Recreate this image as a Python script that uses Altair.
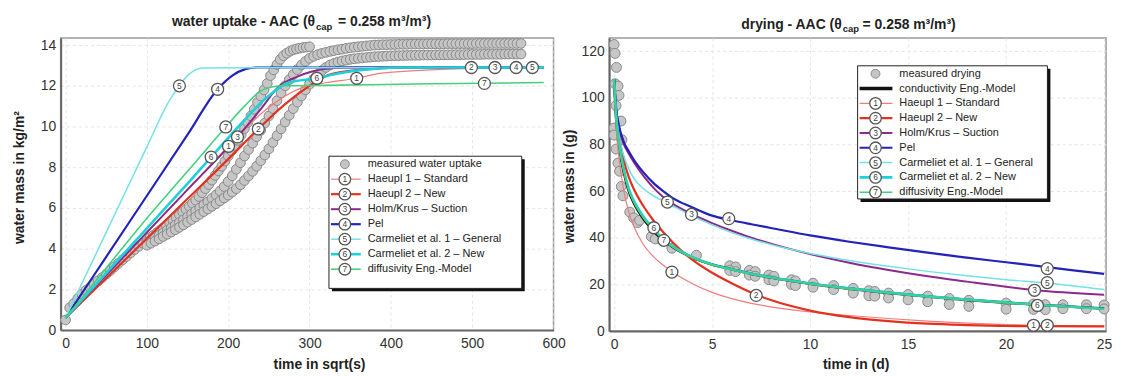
import altair as alt
import pandas as pd

FONT = "Liberation Sans"

# ---------------- series names & styles ----------------
SERIES = ["Haeupl 1 – Standard", "Haeupl 2 – New", "Holm/Krus – Suction", "Pel",
          "Carmeliet et al. 1 – General", "Carmeliet et al. 2 – New", "diffusivity Eng.-Model"]
COLORS = ["#f07c7c", "#e2321f", "#8c2a8c", "#2323b5", "#74e2e4", "#1ed0da", "#45d07e"]
WIDTHS = [1.2, 2.2, 2.0, 2.2, 1.5, 2.6, 1.6]

# ---------------- left panel: water uptake (measured, time in sqrt(s)) ----------------
up_early_t = [0, 5, 10, 15, 20, 25, 30, 35, 40, 45, 50, 55, 60, 65, 70, 75, 80, 85, 90, 95]
up_early_m = [0.5, 1.1, 1.3, 1.55, 1.77, 1.95, 2.1, 2.26, 2.42, 2.58,
              2.75, 2.92, 3.1, 3.28, 3.45, 3.62, 3.79, 3.96, 4.12, 4.27]

up_a_t = [100, 104, 108, 112, 116, 120, 124, 128, 132, 136,
          140, 144, 148, 152, 156, 160, 164, 168, 172, 176,
          180, 184, 188, 192, 196, 200, 204, 208, 212, 216,
          220, 224, 228, 232, 236, 240, 244, 248, 252, 256,
          260, 264, 268, 272, 276, 280, 284, 288, 292, 296,
          300]
up_a_m = [4.45, 4.55, 4.66, 4.78, 4.9, 5.02, 5.14, 5.27, 5.4, 5.53,
          5.66, 5.8, 5.94, 6.08, 6.23, 6.38, 6.56, 6.75, 6.95, 7.15,
          7.37, 7.6, 7.82, 8.05, 8.3, 8.55, 8.8, 9.05, 9.32, 9.6,
          9.9, 10.2, 10.52, 10.85, 11.18, 11.5, 11.8, 12.12, 12.5, 12.78,
          13.05, 13.3, 13.48, 13.6, 13.7, 13.77, 13.81, 13.85, 13.88, 13.9,
          13.92]

up_bc_t = [100, 105, 110, 115, 120, 125, 130, 135, 140, 145,
           150, 155, 160, 165, 170, 175, 180, 185, 190, 195,
           200, 205, 210, 215, 220, 225, 230, 235, 240, 245,
           250, 255, 260, 265, 270, 275, 280, 285, 290, 295,
           300, 305, 310, 315, 320, 325, 330, 335, 340, 345,
           350, 355, 360, 365, 370, 375, 380, 385, 390, 395,
           400, 405, 410, 415, 420, 425, 430, 435, 440, 445,
           450, 455, 460, 465, 470, 475, 480, 485, 490, 495,
           500, 505, 510, 515, 520, 525, 530, 535, 540, 545,
           550, 555, 560]
up_b_m = [4.32, 4.42, 4.52, 4.65, 4.78, 4.9, 5.03, 5.16, 5.29, 5.42,
          5.56, 5.7, 5.85, 6.0, 6.15, 6.3, 6.47, 6.64, 6.83, 7.05,
          7.3, 7.58, 7.9, 8.22, 8.55, 8.87, 9.18, 9.5, 9.82, 10.17,
          10.52, 10.88, 11.27, 11.65, 12.0, 12.3, 12.55, 12.8, 13.02, 13.2,
          13.35, 13.45, 13.53, 13.59, 13.64, 13.69, 13.73, 13.77, 13.8, 13.84,
          13.87, 13.9, 13.92, 13.94, 13.96, 13.98, 14.0, 14.01, 14.02, 14.02,
          14.03, 14.03, 14.04, 14.04, 14.04, 14.05, 14.05, 14.05, 14.05, 14.06,
          14.06, 14.06, 14.06, 14.06, 14.07, 14.07, 14.07, 14.07, 14.07, 14.07,
          14.07, 14.08, 14.08, 14.08, 14.08, 14.08, 14.08, 14.08, 14.08, 14.08,
          14.08, 14.08, 14.08]
up_c_m = [4.17, 4.27, 4.37, 4.48, 4.6, 4.71, 4.82, 4.93, 5.05, 5.17,
          5.3, 5.43, 5.56, 5.69, 5.82, 5.95, 6.08, 6.21, 6.35, 6.49,
          6.63, 6.78, 6.95, 7.14, 7.35, 7.57, 7.8, 8.05, 8.32, 8.6,
          8.9, 9.22, 9.55, 9.88, 10.22, 10.55, 10.88, 11.2, 11.5, 11.8,
          12.08, 12.33, 12.55, 12.74, 12.9, 13.02, 13.1, 13.17, 13.22, 13.26,
          13.3, 13.33, 13.35, 13.37, 13.39, 13.41, 13.43, 13.44, 13.45, 13.46,
          13.47, 13.48, 13.48, 13.49, 13.49, 13.5, 13.5, 13.5, 13.51, 13.51,
          13.51, 13.52, 13.52, 13.52, 13.52, 13.53, 13.53, 13.53, 13.53, 13.54,
          13.54, 13.54, 13.54, 13.55, 13.55, 13.55, 13.55, 13.55, 13.56, 13.56,
          13.56, 13.56, 13.56]

# ---------------- left panel: model curves ----------------
up_x = [
    [0, 50, 100, 150, 200.4, 250, 290, 320, 358, 384, 420, 470, 520, 588],
    [0, 50, 100, 150, 200, 237, 270, 299, 323, 343, 380, 430, 588],
    [0, 50, 100, 150, 211.4, 240, 262, 285, 303, 323, 350, 588],
    [0, 50, 100, 150, 187, 205, 221, 235, 588],
    [0, 50, 100, 128, 140, 150, 158, 168, 588],
    [0, 50, 100, 150, 179, 215, 242, 274, 309, 335, 370, 410, 588],
    [0, 50, 100, 150, 197, 220, 240, 255, 270, 320, 450, 588],
]
up_y = [
    [0.6, 2.7, 4.8, 6.9, 9.03, 10.95, 11.9, 12.15, 12.37, 12.6, 12.72, 12.82, 12.87, 12.9],
    [0.6, 2.55, 4.5, 6.45, 8.4, 9.88, 11.1, 11.97, 12.53, 12.7, 12.84, 12.9, 12.9],
    [0.6, 2.7, 4.8, 6.9, 9.49, 10.85, 11.96, 12.45, 12.7, 12.85, 12.9, 12.9],
    [0.6, 3.6, 6.6, 9.6, 11.83, 12.5, 12.82, 12.9, 12.9],
    [0.6, 4.8, 9.0, 11.3, 12.0, 12.5, 12.75, 12.88, 12.9],
    [0.6, 2.8, 5.0, 7.2, 8.5, 10.1, 11.23, 12.15, 12.37, 12.6, 12.8, 12.9, 12.9],
    [0.6, 3.05, 5.5, 7.8, 9.98, 11.0, 11.75, 11.95, 12.0, 12.02, 12.1, 12.16],
]
up_mark_num = [1, 1, 2, 2, 3, 3, 4, 4, 5, 5, 6, 6, 7, 7]
up_mark_x = [200.4, 358, 237, 499, 211.4, 528, 187, 554, 140, 574, 179, 309, 197, 515]
up_mark_y = [9.03, 12.37, 9.88, 12.9, 9.49, 12.9, 11.83, 12.9, 12.0, 12.9, 8.5, 12.37, 9.98, 12.12]

# ---------------- right panel: drying ----------------
dry_meas_t = [0, 0.05, 0.12, 0.05, 0.2, 0.25, 0.1, 0, 0, 0.1, 0.2, 0.28, 0.37, 0.45, 0.35, 0.4,
              0.8, 1.0, 1.2, 1.3, 1.9, 2.1, 2.95, 4.2,
              5.9, 6.2, 6.9, 7.2, 7.9, 8.15, 9.05, 9.25, 10.15, 11.2, 12.2, 13.0, 13.3, 14.0, 15.0, 16.0,
              17.1, 18.1, 20.0, 21.4, 22.0, 22.9, 24.1, 25.0,
              5.9, 6.2, 6.9, 7.2, 7.9, 8.15, 9.05, 9.25, 10.15, 11.2, 12.2, 13.0, 13.3, 14.0, 15.0, 16.0,
              17.1, 18.1, 20.0, 21.4, 22.0, 22.9, 24.1, 25.0]
dry_meas_m = [122.8, 119, 113, 106, 105, 101, 96.6, 87, 84, 78, 72, 68.5, 62, 58, 90, 82,
              51, 48.5, 46.5, 47.5, 40.5, 39.5, 35.5, 32.5,
              28, 27.5, 26, 25.5, 24, 23.5, 22, 21.5, 20.5, 19.5, 18.3, 17.3, 17, 16.3, 15.7, 15,
              14, 13.2, 12, 11.6, 11.3, 11.3, 11.3, 11.2,
              26, 25.5, 24, 23.5, 22, 21.5, 20, 19.5, 18.8, 17.8, 16.3, 15.2, 15, 14.2, 13.4, 12.6,
              11.4, 10.6, 9.4, 9.3, 9.2, 9.6, 9.6, 9.5]

dry_t = [0, 0.1, 0.25, 0.5, 0.75, 1, 1.5, 2, 2.5, 3, 4, 5, 6, 7, 8, 10, 12, 14, 16, 18, 20, 22, 25]
dry_cond = [108, 92, 80, 68, 60, 55, 48, 43, 39, 36, 31.5, 28.5, 26.5, 24.5, 23, 20.3, 18.2, 16.4, 14.8, 13.4, 12.2, 11.1, 9.7]
dry_y = [
    [108, 88, 74, 60, 51, 45, 37, 32, 28.3, 25.2, 20.3, 16.6, 13.9, 11.9, 10.4, 8.2, 6.7, 5.4, 4.3, 3.4, 2.8, 2.4, 2.2],
    [108, 94, 84, 73, 66, 61, 53.5, 47.5, 42.5, 38, 30.5, 25, 20.5, 16.5, 13.3, 8.8, 6.0, 4.3, 3.2, 2.6, 2.2, 2.1, 2.0],
    [108, 95, 87, 80, 76, 72.5, 66.5, 61.5, 57.5, 54.5, 50, 46.3, 43, 40, 37.5, 33, 29.3, 26.2, 23.5, 21.2, 19.0, 17.2, 15.6],
    [108, 96, 88, 81, 77, 73.5, 68, 63.5, 60, 57, 53, 49.5, 47.5, 45.8, 44.2, 41, 38.3, 35.9, 33.6, 31.5, 29.5, 27.5, 24.5],
    [108, 94, 84, 75, 69.5, 65.5, 61, 58, 55.8, 53.6, 49.3, 45.5, 42.2, 39.5, 37.1, 33.3, 30.3, 27.8, 25.6, 23.7, 22.0, 20.6, 17.8],
    [108, 93, 81, 69, 61, 56, 49, 44, 39.5, 36.3, 31.7, 28.6, 26.5, 24.6, 23.1, 20.4, 18.3, 16.5, 14.9, 13.5, 12.3, 11.1, 9.6],
    [108, 92.5, 80.5, 68.5, 60.5, 55.5, 48.5, 43.5, 39.2, 36, 31.4, 28.4, 26.3, 24.4, 22.9, 20.2, 18.1, 16.3, 14.7, 13.3, 12.1, 11.0, 9.5],
]
dry_mark_num = [1, 1, 2, 2, 3, 3, 4, 4, 5, 5, 6, 6, 7]
dry_mark_x = [2.95, 21.4, 7.25, 22.1, 3.95, 21.45, 5.85, 22.1, 2.72, 22.1, 2.03, 21.6, 2.54]
dry_mark_y = [25.3, 2.5, 15.3, 2.5, 50, 17.5, 48.2, 26.8, 55.3, 20.8, 44.3, 11.0, 38.9]

# ---------------- layout constants ----------------
LW, LH = 496, 294
RW, RH = 500, 295
L_DX, L_DY = [-6, 600], [0, 14.35]
R_DX, R_DY = [-0.25, 25.1], [0, 125.6]


def axis_common(values, title, tx, ty, pad):
    return alt.Axis(values=values, title=title, ticks=False, labelPadding=pad, labelFlush=False,
                    labelOverlap=False, labelFont=FONT, labelFontSize=14, labelColor="#333",
                    titleFont=FONT, titleFontSize=14, titleFontWeight="bold", titleColor="#222",
                    titleX=tx, titleY=ty, titleBaseline="middle", domainColor="#666", domainWidth=2,
                    grid=True, gridColor="#e4e4e4", gridDash=[3, 3])


def legend_layers(X, Y, dx, w, dy, h, box, y0, step, sym_x, lx0, lx1, tx, entries):
    fx = lambda p: dx[0] + p / w * (dx[1] - dx[0])
    fy = lambda p: dy[1] - p / h * (dy[1] - dy[0])
    bx0, by0, bx1, by1 = box
    shadow = pd.DataFrame({"x": [fx(bx0 + 3)], "x2": [fx(bx1 + 3)], "y": [fy(by0 + 3)], "y2": [fy(by1 + 3)]})
    frame = pd.DataFrame({"x": [fx(bx0)], "x2": [fx(bx1)], "y": [fy(by0)], "y2": [fy(by1)]})
    seg, sym, meas, txt = [], [], [], []
    for i, (kind, label, col, sw, num) in enumerate(entries):
        yy = fy(y0 + i * step)
        txt.append({"x": fx(tx), "y": yy, "label": label})
        if kind == "meas":
            meas.append({"x": fx(sym_x), "y": yy})
        else:
            seg.append({"x": fx(lx0), "x2": fx(lx1), "y": yy, "col": col, "sw": sw})
        if kind == "line":
            sym.append({"x": fx(sym_x), "y": yy, "num": num})
    seg, sym, meas, txt = map(pd.DataFrame, (seg, sym, meas, txt))
    return [
        alt.Chart(shadow).mark_rect(color="#111").encode(x=X, x2="x2:Q", y=Y, y2="y2:Q"),
        alt.Chart(frame).mark_rect(fill="white", stroke="#222", strokeWidth=1).encode(x=X, x2="x2:Q", y=Y, y2="y2:Q"),
        alt.Chart(seg).mark_rule().encode(
            x=X, x2="x2:Q", y=Y,
            color=alt.Color("col:N", scale=None), strokeWidth=alt.StrokeWidth("sw:Q", scale=None)),
        alt.Chart(sym).mark_circle(size=135, fill="white", stroke="#555", strokeWidth=1.3, opacity=1).encode(x=X, y=Y),
        alt.Chart(sym).mark_text(font=FONT, fontSize=8.5, color="#444").encode(x=X, y=Y, text="num:N"),
        alt.Chart(meas).mark_circle(size=80, fill="#c4c4c4", stroke="#8c8c8c", strokeWidth=1, opacity=1).encode(x=X, y=Y),
        alt.Chart(txt).mark_text(font=FONT, fontSize=11, color="#222", align="left", baseline="middle").encode(
            x=X, y=Y, text="label:N"),
    ]


def title_layers(part_a, part_b, xa, ya, yc, xb):
    base = dict(font=FONT, fontWeight="bold", color="#222", baseline="alphabetic")
    return [
        alt.Chart(pd.DataFrame({"t": [part_a]})).mark_text(align="right", fontSize=14, **base).encode(
            x=alt.value(xa), y=alt.value(ya), text="t:N"),
        alt.Chart(pd.DataFrame({"t": ["cap"]})).mark_text(align="left", fontSize=9.5, **base).encode(
            x=alt.value(xa + 1), y=alt.value(yc), text="t:N"),
        alt.Chart(pd.DataFrame({"t": [part_b]})).mark_text(align="left", fontSize=14, **base).encode(
            x=alt.value(xb), y=alt.value(ya), text="t:N"),
    ]


def build_panel(X, Y, meas, curves, mk, leg, titles, extra_first=None, msize=100):
    layers = [alt.Chart(meas).mark_circle(size=msize, fill="#c6c6c6", stroke="#888888", strokeWidth=1, opacity=1).encode(x=X, y=Y)]
    if extra_first is not None:
        layers.append(extra_first)
    for df, col, sw in curves:
        layers.append(alt.Chart(df).mark_line(color=col, strokeWidth=sw, interpolate="monotone").encode(x=X, y=Y))
    layers.append(alt.Chart(mk).mark_circle(size=145, fill="white", stroke="#555", strokeWidth=1.3, opacity=1).encode(x=X, y=Y))
    layers.append(alt.Chart(mk).mark_text(font=FONT, fontSize=8.5, color="#444").encode(x=X, y=Y, text="num:N"))
    layers += leg
    layers += titles
    return alt.layer(*layers)


# ---- left panel ----
XL = alt.X("x:Q", scale=alt.Scale(domain=L_DX, nice=False, zero=False),
           axis=axis_common([0, 100, 200, 300, 400, 500, 600], "time in sqrt(s)", 260, 35, 6))
YL = alt.Y("y:Q", scale=alt.Scale(domain=L_DY, nice=False),
           axis=axis_common([0, 2, 4, 6, 8, 10, 12, 14], "water mass in kg/m²", -41, 140, 5))

meas_left = pd.DataFrame({"x": up_early_t + up_a_t + up_bc_t + up_bc_t,
                          "y": up_early_m + up_a_m + up_b_m + up_c_m})
curves_left = [(pd.DataFrame({"x": up_x[i], "y": up_y[i]}), COLORS[i], WIDTHS[i]) for i in range(7)]
mk_left = pd.DataFrame({"x": up_mark_x, "y": up_mark_y, "num": [str(n) for n in up_mark_num]})

entries_left = [("meas", "measured water uptake", "#999", 0, "")] + \
    [("line", SERIES[i], COLORS[i], WIDTHS[i], str(i + 1)) for i in range(7)]
leg_left = legend_layers(XL, YL, L_DX, LW, L_DY, LH, (270, 119, 464, 252), 127, 15.1, 286, 272, 302, 309, entries_left)
titles_left = title_layers("water uptake - AAC (θ", "= 0.258 m³/m³)", 256, -12, -8.5, 279)
left = build_panel(XL, YL, meas_left, curves_left, mk_left, leg_left, titles_left, msize=95).properties(width=LW, height=LH)

# ---- right panel ----
XR = alt.X("x:Q", scale=alt.Scale(domain=R_DX, nice=False, zero=False),
           axis=axis_common([0, 5, 10, 15, 20, 25], "time in (d)", 248, 34, 6))
YR = alt.Y("y:Q", scale=alt.Scale(domain=R_DY, nice=False),
           axis=axis_common([0, 20, 40, 60, 80, 100, 120], "water mass in (g)", -40, 149, 5))

meas_right = pd.DataFrame({"x": dry_meas_t, "y": dry_meas_m})
curves_right = [(pd.DataFrame({"x": dry_t, "y": dry_y[i]}), COLORS[i], WIDTHS[i]) for i in range(7)]
cond_layer = alt.Chart(pd.DataFrame({"x": dry_t, "y": dry_cond})).mark_line(
    color="#111", strokeWidth=2.6, interpolate="monotone").encode(x=XR, y=YR)
mk_right = pd.DataFrame({"x": dry_mark_x, "y": dry_mark_y, "num": [str(n) for n in dry_mark_num]})

entries_right = [("meas", "measured drying", "#999", 0, ""),
                 ("plain", "conductivity Eng.-Model", "#111", 3.5, "")] + \
    [("line", SERIES[i], COLORS[i], WIDTHS[i], str(i + 1)) for i in range(7)]
leg_right = legend_layers(XR, YR, R_DX, RW, R_DY, RH, (250, 28, 441, 162), 36, 14.9, 268, 252, 285, 292, entries_right)
titles_right = title_layers("drying - AAC (θ", "= 0.258 m³/m³)", 234, -9.5, -6, 255)
right = build_panel(XR, YR, meas_right, curves_right, mk_right, leg_right, titles_right,
                    extra_first=cond_layer, msize=100).properties(width=RW, height=RH)

chart = alt.hconcat(left, right, spacing=56, bounds="flush").properties(
    padding={"left": 4, "top": 5, "right": 0, "bottom": 2}
).configure_view(stroke="#9a9a9a", strokeWidth=1.5)

chart.save("out.html", embed_options={"renderer": "svg", "actions": False})
